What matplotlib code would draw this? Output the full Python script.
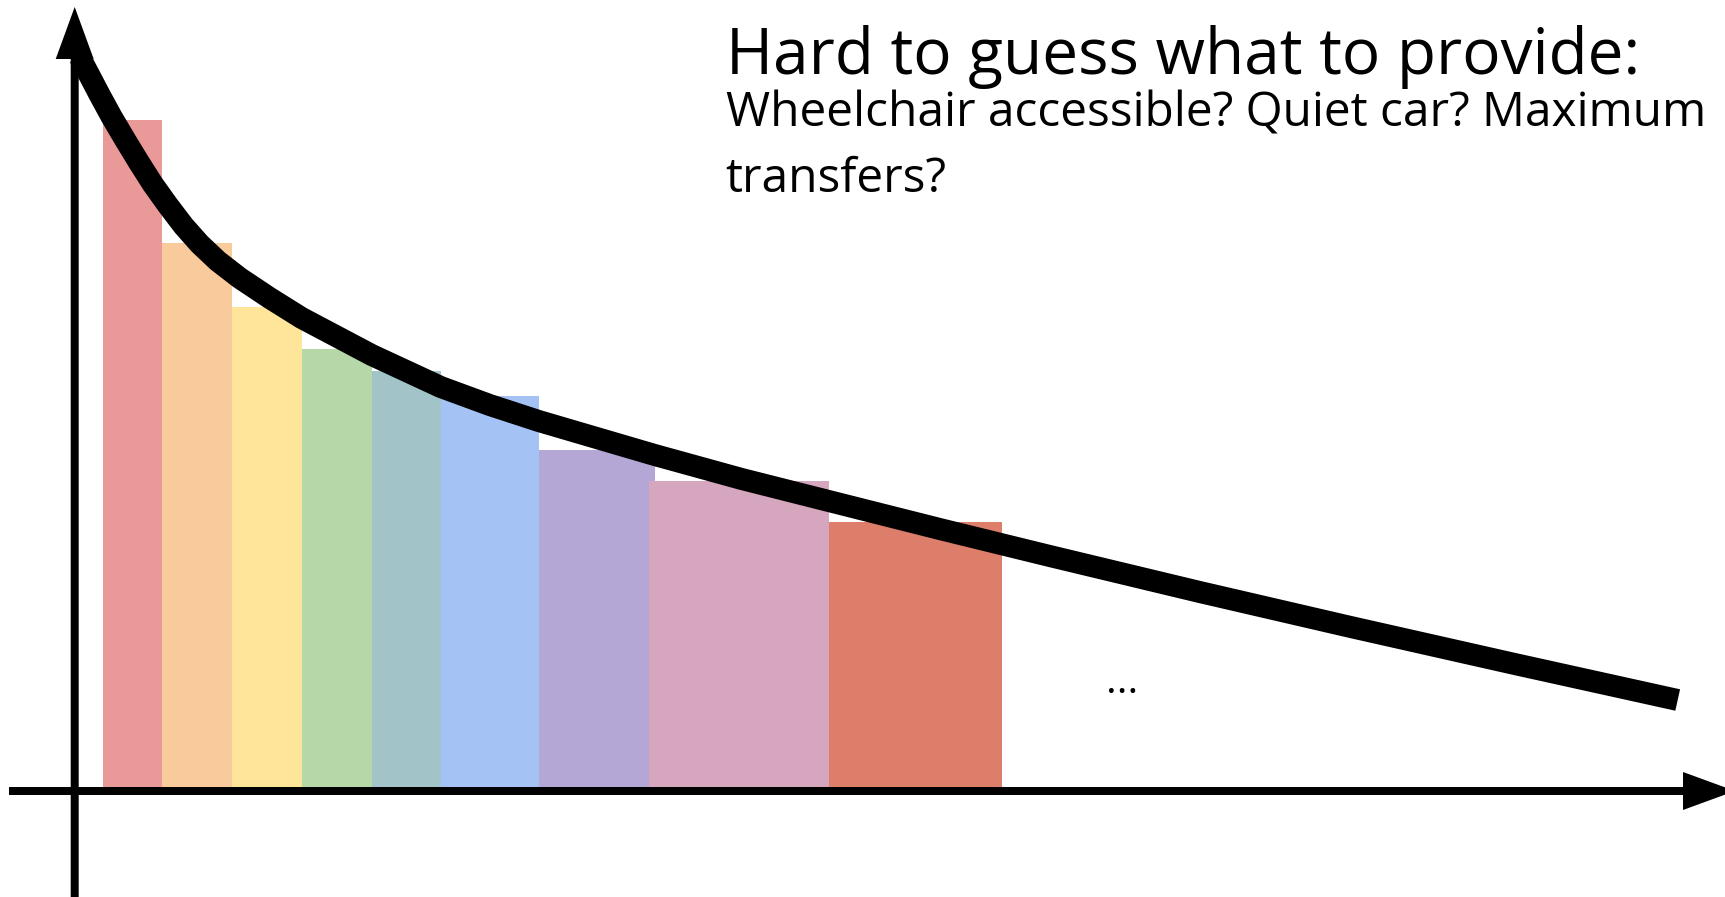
import matplotlib
matplotlib.use("Agg")
import matplotlib.pyplot as plt

# bars (units: pixels from the axis origin)
bar_left   = [28, 87, 157, 227, 297, 366, 464, 574, 754]
bar_right  = [87, 157, 227, 297, 366, 464, 580, 754, 927]
bar_height = [675, 552, 488, 446, 424, 399, 345, 314, 273]
bar_colors = ["#ea9999", "#f9cb9c", "#ffe599", "#b6d7a8", "#a2c4c9",
              "#a4c2f4", "#b4a7d6", "#d5a6bd", "#dd7e6b"]

# long-tail curve drawn over the bars
curve_x = [5, 14, 25, 37, 50, 64, 78, 93, 109, 125, 143, 165, 195, 227, 297, 366, 415, 464,
           580, 667, 754, 865, 975, 1125, 1276, 1440, 1603]
curve_y = [734, 717, 696, 674, 652, 629, 607, 586, 565, 547, 530, 513, 493, 473, 436, 404, 386, 370,
           336, 312, 290, 262, 235, 199, 164, 127, 91]

title = "Hard to guess what to provide:"
sub1 = "Wheelchair accessible? Quiet car? Maximum"
sub2 = "transfers?"

W, H = 1725, 897
OX, OY = 74.7, 791          # axis crossing in pixel coords

fig = plt.figure(figsize=(W / 100, H / 100), dpi=100)
ax = fig.add_axes([0, 0, 1, 1])
ax.set_xlim(-OX, W - OX); ax.set_ylim(-(H - OY), OY)
ax.axis("off")

for l, r, h, c in zip(bar_left, bar_right, bar_height, bar_colors):
    ax.bar(l, h, width=r - l, align="edge", color=c, bottom=-4, lw=0)

ax.plot(curve_x, curve_y, color="black", lw=15.8, solid_capstyle="butt", solid_joinstyle="round")

# axes with arrow heads
ax.arrow(-OX + 9, 0, W - OX + 10 - (-OX + 9), 0, width=8, head_width=38, head_length=52,
         length_includes_head=True, color="black", lw=0)
ax.arrow(0, -(H - OY), 0, OY - 7 + (H - OY), width=8, head_width=38, head_length=52,
         length_includes_head=True, color="black", lw=0)

font = "Open Sans"
ax.text(651, 717, title, fontsize=46, family=font, va="baseline", ha="left")
ax.text(651, 665, sub1, fontsize=34.4, family=font, va="baseline", ha="left")
ax.text(651, 599, sub2, fontsize=34.4, family=font, va="baseline", ha="left")
ax.text(1031, 98, "...", fontsize=29.6, family=font, va="baseline", ha="left")

fig.savefig("out.png", dpi=100)
